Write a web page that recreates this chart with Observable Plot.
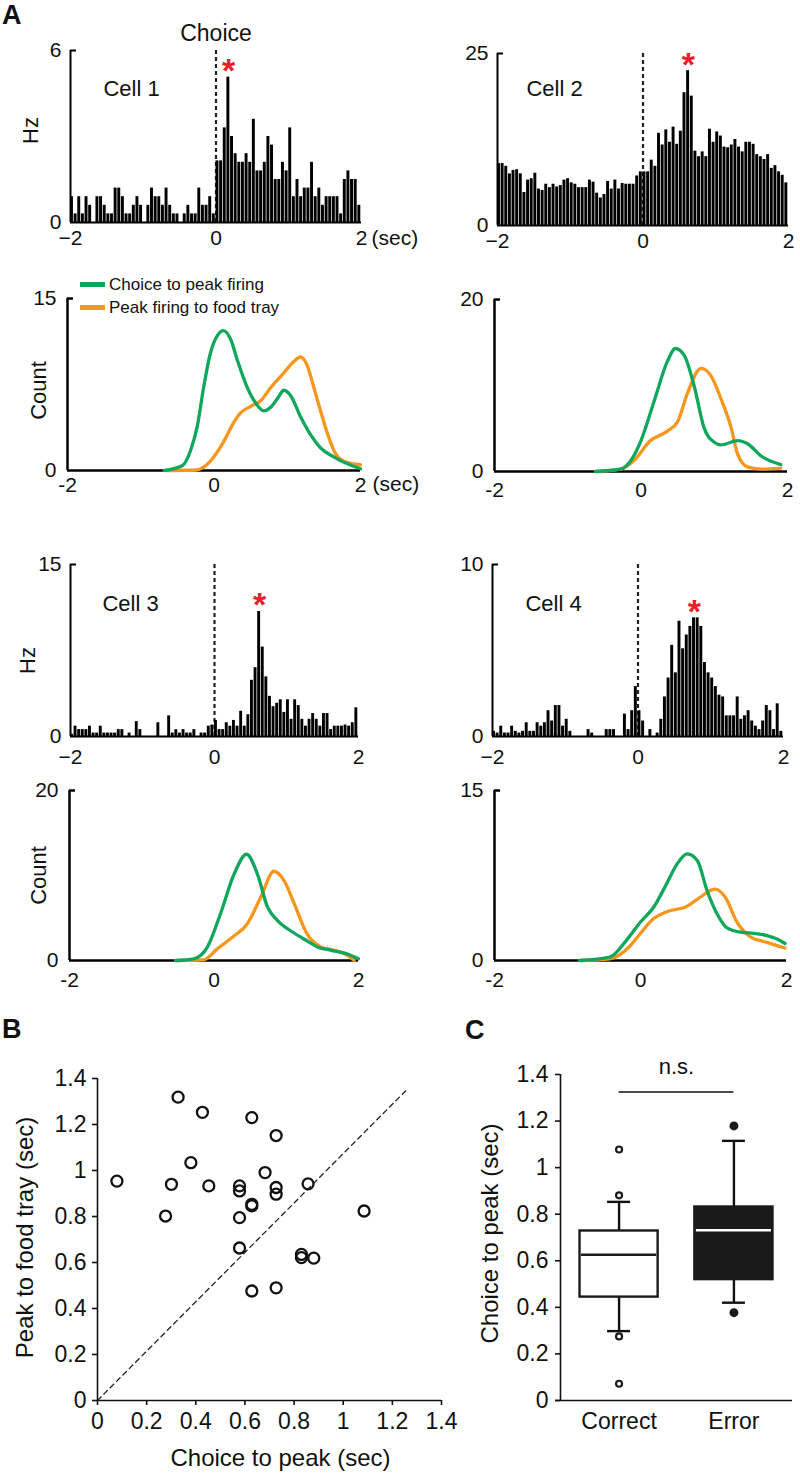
<!DOCTYPE html>
<html><head><meta charset="utf-8">
<script src="https://cdn.jsdelivr.net/npm/d3@7"></script>
<script src="https://cdn.jsdelivr.net/npm/@observablehq/plot@0.6"></script>
<style>
body{margin:0;background:#fff;}
#fig{position:relative;width:800px;height:1474px;overflow:hidden;font-family:Arial,"Liberation Sans",Helvetica,sans-serif;color:#111;}
#fig .p{position:absolute;}
#fig svg{overflow:visible;background:none;}
#fig g[aria-label*="axis"]{font-size:inherit;font-family:inherit;}
#fig g[aria-label*="axis"] line,#fig g[aria-label*="axis tick"] path{stroke-width:1.6;}
.lt{position:absolute;font-weight:bold;font-size:27px;line-height:1.1;}
.leg{position:absolute;font-size:17px;line-height:1;display:flex;align-items:center;white-space:nowrap;}
.leg i{display:inline-block;width:25px;height:5px;margin-right:4px;}
</style></head><body><div id="fig"></div>
<script>
// ---------------- DATA ----------------
const timeDomain = [-2, 2];
const binWidth = 0.05;
const histTicks = [-2, 0, 2];
const cellNames = ["Cell 1", "Cell 2", "Cell 3", "Cell 4"];
const hzMax = [6, 25, 15, 10];
const countMax = [15, 20, 20, 15];

const cell1Hz = [0.9,0.3,0.9,0.3,0.9,0.6,0,0.9,0.9,0.6, 0.3,0.3,1.2,1.2,0.9,0.3,0.3,0.6,0.9,0.6, 0,0.6,1.2,0.9,0.9,0.6,1.2,0.6,0.3,0.3, 0,0.3,0.6,0.3,0.3,1.2,0.6,0.6,0.9,0.3,
  2.15,2.15,3.3,5.07,3.0,2.4,2.1,2.1,2.4,2.1, 3.6,1.8,1.8,2.1,3.0,2.7,1.5,1.5,2.1,1.8, 3.3,0.9,1.5,0.9,1.2,1.2,2.1,0.9,1.2,0.6, 0.9,0.9,0.9,0.9,0.3,1.5,1.8,1.5,1.5,0.6];
const cell2Hz = [9.0,9.0,8.6,7.5,8.0,8.1,7.5,4.8,6.6,6.8, 7.6,5.3,5.1,6.0,5.5,6.0,5.6,5.8,6.6,6.8, 6.2,6.0,5.5,5.5,5.5,6.6,6.3,4.7,4.0,4.5, 6.4,5.3,6.6,5.3,6.1,6.0,6.0,6.0,7.2,7.8,
  7.8,7.8,9.5,8.6,13.4,11.7,13.9,12.1,14.3,11.8, 13.7,19.3,22.5,18.8,10.8,10.0,10.7,10.0,14.0,12.1, 13.6,13.0,11.4,11.3,11.7,12.5,11.4,10.7,12.1,12.1, 11.8,10.3,10.0,9.6,10.3,8.3,8.7,7.8,7.3,6.2];
const cell3Hz = [0.2,0.9,0.6,0.6,0.6,0.9,0.3,0.3,0.9,0.3, 0.3,0.3,0.3,0.6,0.6,0,0.3,0,1.3,0.6, 0,0,0,0,1.2,0,0,1.8,0.3,0.6, 0.3,0.6,0.3,0.3,0.6,0,0.3,0.3,0.9,1.0,
  1.4,0.6,0.6,1.2,0.9,1.4,0.9,2.2,0.9,1.9, 4.9,6.0,10.9,7.8,5.2,3.5,2.6,2.9,3.2,2.1, 3.2,1.5,3.2,2.7,1.5,0.9,1.5,2.0,1.5,0.9, 2.0,2.0,0.6,0.9,0.9,0.9,1.0,0.9,1.2,2.5];
const cell4Hz = [0.3,0.2,0.6,0.2,0.2,0.6,0.3,0.2,0.3,0.8, 0.3,0.3,0.8,0.6,0.8,1.5,0.9,1.8,1.8,0.6, 1.0,0.3,0,0,0,0,0.4,0.2,0,0, 0,0.4,0.4,0.4,0,0,1.3,0.4,1.5,2.9,
  1.5,0.9,0,0.4,0,0.2,1.0,2.3,3.4,5.3, 3.7,6.7,5.1,5.9,6.4,6.9,6.9,6.4,4.3,3.7, 3.4,2.9,2.4,2.3,1.2,1.2,1.2,2.3,1.0,1.2, 1.5,0.9,0.6,0.4,0.9,1.8,1.5,0.4,1.9,0.3];

// density curves [time (s), count]
const dens1Choice = [[-0.68,0],[-0.43,0.44],[-0.32,1.75],[-0.23,3.8],[-0.14,7.3],[-0.05,10.2],[0.05,11.8],[0.13,12.2],[0.23,11.4],[0.32,9.6],[0.45,7.3],[0.59,5.7],[0.68,5.2],[0.77,5.5],[0.89,6.5],[0.95,7.0],[1.05,6.5],[1.18,4.7],[1.32,3.1],[1.45,2.0],[1.64,1.17],[1.82,0.58],[2.0,0.15]];
const dens1Tray = [[-0.64,0],[-0.27,0.02],[-0.14,0.3],[0,1.2],[0.14,2.6],[0.27,4.2],[0.36,5.0],[0.5,5.6],[0.64,6.1],[0.77,7.2],[0.95,8.5],[1.09,9.5],[1.18,9.9],[1.27,9.2],[1.36,7.3],[1.45,5.3],[1.55,3.2],[1.64,1.7],[1.77,0.8],[2.0,0.5]];
const dens2Choice = [[-0.62,0],[-0.28,0.27],[-0.14,1.25],[0,3.6],[0.18,8.2],[0.36,12.8],[0.47,14.3],[0.59,13.5],[0.73,9.8],[0.86,5.1],[1.0,3.4],[1.09,3.1],[1.32,3.6],[1.46,3.2],[1.64,1.8],[1.91,0.8]];
const dens2Tray = [[-0.62,0],[-0.28,0.27],[-0.1,1.25],[0.13,3.6],[0.36,4.7],[0.5,5.8],[0.63,9.0],[0.82,12.0],[0.95,11.2],[1.09,8.5],[1.23,5.1],[1.32,2.0],[1.46,0.5],[1.64,0.27],[1.91,0.4]];
const dens3Choice = [[-0.53,0],[-0.28,0.2],[-0.09,1.6],[0.09,5.5],[0.28,10.2],[0.45,12.5],[0.6,10.2],[0.74,6.3],[0.88,4.7],[1.06,3.5],[1.25,2.5],[1.43,1.6],[1.62,1.2],[1.81,0.86],[2.0,0.2]];
const dens3Tray = [[-0.53,0],[-0.14,0.08],[0.05,1.4],[0.28,2.9],[0.46,4.3],[0.65,7.5],[0.83,10.5],[0.97,9.4],[1.11,6.7],[1.29,3.1],[1.48,1.6],[1.67,1.2],[1.85,0.6],[1.94,0]];
const dens4Choice = [[-0.83,0],[-0.42,0.3],[-0.19,1.8],[0,3.4],[0.18,4.7],[0.36,6.8],[0.5,8.5],[0.64,9.4],[0.78,8.8],[0.91,6.2],[1.05,4.1],[1.18,2.9],[1.37,2.5],[1.55,2.4],[1.73,2.2],[1.87,1.9],[1.98,1.5]];
const dens4Tray = [[-0.83,0],[-0.42,0.15],[-0.14,1.3],[0,2.4],[0.18,3.7],[0.36,4.3],[0.64,4.8],[0.82,5.6],[1.02,6.3],[1.16,5.6],[1.32,3.4],[1.5,2.1],[1.73,1.6],[1.98,1.1]];
const legendLabels = ["Choice to peak firing", "Peak firing to food tray"];

// panel B
const secTicks = [0, 0.2, 0.4, 0.6, 0.8, 1, 1.2, 1.4];
const choiceToPeak = [0.079,0.328,0.427,0.628,0.727,0.380,0.682,0.301,0.453,0.578,0.578,0.727,0.727,0.857,0.277,0.578,0.628,0.628,1.085,0.578,0.830,0.830,0.880,0.628,0.727];
const peakToTray   = [0.954,1.319,1.253,1.230,1.152,1.034,0.991,0.940,0.933,0.933,0.911,0.926,0.897,0.942,0.802,0.795,0.853,0.846,0.824,0.663,0.635,0.621,0.619,0.476,0.490];
const unityLine = [[0, 0], [1.254, 1.346]];

// panel C
const groups = ["Correct", "Error"];
const boxQ1 = [0.444, 0.519];
const boxMedian = [0.626, 0.731];
const boxQ3 = [0.728, 0.831];
const whiskerLow = [0.298, 0.42];
const whiskerHigh = [0.853, 1.115];
const outlierGroup = [0, 0, 0, 0, 1, 1];
const outlierValue = [1.078, 0.881, 0.275, 0.072, 1.179, 0.377];
const sigBarY = [1.325];
const sigText = "n.s.";

// ---------------- STYLE ----------------
const FONT = 'Arial, "Liberation Sans", Helvetica, sans-serif';
const RED = "#e8202a", GREEN = "#10a65c", ORANGE = "#f7961c", INK = "#111";
const fig = document.getElementById("fig");
function place(node, left, top) {
  const d = document.createElement("div");
  d.className = "p"; d.style.left = left + "px"; d.style.top = top + "px";
  d.appendChild(node); fig.appendChild(d);
}
const sty = fs => `font-family:${FONT};font-size:${fs}px;overflow:visible;background:transparent;color:${INK};`;
const minusFmt = d => d < 0 ? "\u2212" + (-d) : String(d);
const C = {textAnchor: "middle", lineAnchor: "middle"};

// ---------------- HISTOGRAMS ----------------
const histPanels = [
  {vals: cell1Hz, i: 0, left: 0, top: 0, w: 400, h: 260, ml: 70, mr: 39, mt: 50, mb: 38, px: 8, ldx: 61, ldy: 38, choice: true, sec: true, hz: [-40, -6]},
  {vals: cell2Hz, i: 1, left: 400, top: 0, w: 400, h: 260, ml: 97, mr: 12, mt: 53, mb: 35, px: 8, ldx: 57, ldy: 35},
  {vals: cell3Hz, i: 2, left: 0, top: 520, w: 400, h: 250, ml: 70, mr: 42, mt: 44, mb: 34, px: 13, ldx: 60, ldy: 39, hz: [-43, 10]},
  {vals: cell4Hz, i: 3, left: 400, top: 520, w: 400, h: 250, ml: 92, mr: 17, mt: 44, mb: 34, px: 13, ldx: 61, ldy: 39}
];
for (const p of histPanels) {
  const ymax = hzMax[p.i];
  const bins = p.vals.map((v, k) => ({x1: timeDomain[0] + k * binWidth, x2: timeDomain[0] + (k + 1) * binWidth, v}));
  const peak = bins[d3.maxIndex(p.vals)];
  const pw = p.w - p.ml - p.mr;
  const marks = [
    Plot.ruleX([0], {stroke: "#222", strokeWidth: 2.2, strokeDasharray: "4,3"}),
    Plot.rect(bins, {x1: "x1", x2: "x2", y1: () => 0, y2: "v", fill: "#000", insetRight: 0.7}),
    Plot.ruleY([0], {stroke: "#000", strokeWidth: 2}),
    Plot.ruleX([timeDomain[0]], {y1: 0, y2: ymax, stroke: "#000", strokeWidth: 2}),
    Plot.tickY([ymax], {y: d => d, insetRight: pw - 6, stroke: "#000", strokeWidth: 2}),
    Plot.text([peak], {x: d => (d.x1 + d.x2) / 2, y: "v", text: () => "*", fill: RED, fontSize: 34, fontWeight: "bold", dy: -6, ...C}),
    Plot.text([cellNames[p.i]], {text: d => d, frameAnchor: "top-left", dx: p.ldx, dy: p.ldy, fontSize: 22, ...C})
  ];
  if (p.choice) marks.push(Plot.text([0], {x: d => d, text: () => "Choice", frameAnchor: "top", dy: -17, fontSize: 23, ...C}));
  if (p.sec) marks.push(Plot.text([timeDomain[1]], {x: d => d, text: () => "(sec)", frameAnchor: "bottom", dx: 10, dy: 16, fontSize: 21, textAnchor: "start", lineAnchor: "middle"}));
  if (p.hz) marks.push(Plot.text(["Hz"], {text: d => d, frameAnchor: "left", rotate: -90, dx: p.hz[0], dy: p.hz[1], fontSize: 22, ...C}));
  const plot = Plot.plot({
    width: p.w, height: p.h, marginLeft: p.ml, marginRight: p.mr, marginTop: p.mt, marginBottom: p.mb,
    style: sty(21),
    x: {domain: timeDomain, ticks: histTicks, tickSize: 0, tickPadding: p.px, tickFormat: minusFmt, label: null},
    y: {domain: [0, ymax], ticks: [0, ymax], tickSize: 0, tickPadding: 9, tickFormat: d => String(d), label: null},
    marks
  });
  place(plot, p.left, p.top);
}

// ---------------- DENSITIES ----------------
const densPanels = [
  {choice: dens1Choice, tray: dens1Tray, i: 0, left: 0, top: 260, w: 400, h: 260, ml: 67, mr: 40, mt: 38, mb: 50, px: 7, sec: true, cnt: [-29, 6]},
  {choice: dens2Choice, tray: dens2Tray, i: 1, left: 400, top: 260, w: 400, h: 260, ml: 94, mr: 13, mt: 39, mb: 49, px: 11},
  {choice: dens3Choice, tray: dens3Tray, i: 2, left: 0, top: 770, w: 400, h: 240, ml: 69, mr: 42, mt: 20, mb: 50, px: 12, cnt: [-31, 0]},
  {choice: dens4Choice, tray: dens4Tray, i: 3, left: 400, top: 770, w: 400, h: 240, ml: 94, mr: 14, mt: 20, mb: 50, px: 12}
];
for (const p of densPanels) {
  const ymax = countMax[p.i];
  const pw = p.w - p.ml - p.mr;
  const marks = [
    Plot.ruleY([0], {stroke: "#000", strokeWidth: 2.5}),
    Plot.ruleX([timeDomain[0]], {y1: 0, y2: ymax, stroke: "#000", strokeWidth: 2.5}),
    Plot.tickY([ymax], {y: d => d, insetRight: pw - 6, stroke: "#000", strokeWidth: 2.5}),
    Plot.line(p.tray, {x: d => d[0], y: d => d[1], stroke: ORANGE, strokeWidth: 3.3, curve: "monotone-x"}),
    Plot.line(p.choice, {x: d => d[0], y: d => d[1], stroke: GREEN, strokeWidth: 3.3, curve: "monotone-x"})
  ];
  if (p.sec) marks.push(Plot.text([timeDomain[1]], {x: d => d, text: () => "(sec)", frameAnchor: "bottom", dx: 12, dy: 14, fontSize: 21, textAnchor: "start", lineAnchor: "middle"}));
  if (p.cnt) marks.push(Plot.text(["Count"], {text: d => d, frameAnchor: "left", rotate: -90, dx: p.cnt[0], dy: p.cnt[1], fontSize: 22, ...C}));
  const plot = Plot.plot({
    width: p.w, height: p.h, marginLeft: p.ml, marginRight: p.mr, marginTop: p.mt, marginBottom: p.mb,
    style: sty(21),
    x: {domain: timeDomain, ticks: histTicks, tickSize: 0, tickPadding: p.px, tickFormat: d => String(d), label: null},
    y: {domain: [0, ymax], ticks: [0, ymax], tickSize: 0, tickPadding: 11, tickFormat: d => String(d), label: null},
    marks
  });
  place(plot, p.left, p.top);
}

// legend
const leg = [[GREEN, 284], [ORANGE, 307]];
legendLabels.forEach((t, k) => {
  const d = document.createElement("div");
  d.className = "leg";
  d.style.left = "80px"; d.style.top = (leg[k][1] - 9) + "px"; d.style.height = "18px";
  d.innerHTML = `<i style="background:${leg[k][0]}"></i><span>${t}</span>`;
  fig.appendChild(d);
});

// ---------------- PANEL B ----------------
const secFmt = d => String(d);
const pts = choiceToPeak.map((x, k) => ({x, y: peakToTray[k]}));
const plotB = Plot.plot({
  width: 460, height: 464, marginLeft: 97, marginRight: 19, marginTop: 68, marginBottom: 74,
  style: sty(23),
  x: {domain: [0, 1.4], ticks: secTicks, tickSize: 5, tickPadding: 7, tickFormat: secFmt, label: null},
  y: {domain: [0, 1.4], ticks: secTicks, tickSize: 5, tickPadding: 6, tickFormat: secFmt, label: null},
  marks: [
    Plot.ruleX([0], {y1: 0, y2: 1.4, stroke: INK, strokeWidth: 1.6}),
    Plot.ruleY([0], {x1: 0, x2: 1.4, stroke: INK, strokeWidth: 1.6}),
    Plot.line(unityLine, {x: d => d[0], y: d => d[1], stroke: "#222", strokeWidth: 1.3, strokeDasharray: "5,4"}),
    Plot.dot(pts, {x: "x", y: "y", r: 5.5, stroke: INK, strokeWidth: 2.3, fill: "none"}),
    Plot.text(["Choice to peak (sec)"], {text: d => d, frameAnchor: "bottom", dx: 11, dy: 58, fontSize: 24, ...C}),
    Plot.text(["Peak to food tray (sec)"], {text: d => d, frameAnchor: "left", rotate: -90, dx: -72, dy: -2, fontSize: 24, ...C})
  ]
});
place(plotB, 0, 1010);

// ---------------- PANEL C ----------------
const boxes = groups.map((g, i) => ({i, q1: boxQ1[i], med: boxMedian[i], q3: boxQ3[i], lo: whiskerLow[i], hi: whiskerHigh[i]}));
const outs = outlierValue.map((v, k) => ({i: outlierGroup[k], v}));
const half = 0.34, cap = 0.1;
const plotC = Plot.plot({
  width: 340, height: 464, marginLeft: 100, marginRight: 8, marginTop: 64, marginBottom: 74,
  style: sty(23),
  x: {domain: [-0.51, groups.length - 0.49], ticks: groups.map((g, i) => i), tickSize: 0, tickPadding: 12, tickFormat: i => groups[i], label: null},
  y: {domain: [0, 1.4], ticks: secTicks, tickSize: 5, tickPadding: 7, tickFormat: secFmt, label: null},
  marks: [
    Plot.ruleX([-0.51], {y1: 0, y2: 1.4, stroke: INK, strokeWidth: 1.6}),
    Plot.ruleY([0], {stroke: INK, strokeWidth: 1.6, insetLeft: -5}),
    Plot.ruleX(boxes, {x: "i", y1: "lo", y2: "hi", stroke: INK, strokeWidth: 2.4}),
    Plot.ruleY(boxes, {y: "lo", x1: d => d.i - cap, x2: d => d.i + cap, stroke: INK, strokeWidth: 2.4}),
    Plot.ruleY(boxes, {y: "hi", x1: d => d.i - cap, x2: d => d.i + cap, stroke: INK, strokeWidth: 2.4}),
    Plot.rect(boxes, {x1: d => d.i - half, x2: d => d.i + half, y1: "q1", y2: "q3", fill: d => d.i ? "#1a1a1a" : "#fff", stroke: "#1a1a1a", strokeWidth: 2.4}),
    Plot.ruleY(boxes, {y: "med", x1: d => d.i - half, x2: d => d.i + half, stroke: d => d.i ? "#fff" : "#1a1a1a", strokeWidth: 2.4, insetLeft: 1.5, insetRight: 1.5}),
    Plot.dot(outs, {x: "i", y: "v", r: d => d.i ? 5.8 : 4.6, fill: d => d.i ? "#1a1a1a" : "#fff", stroke: "#1a1a1a", strokeWidth: 2.2}),
    Plot.ruleY(sigBarY, {x1: 0, x2: groups.length - 1, stroke: INK, strokeWidth: 1.5}),
    Plot.text(sigBarY, {x: () => (groups.length - 1) / 2, y: d => d, text: () => sigText, dy: -25, fontSize: 22, ...C}),
    Plot.text(["Choice to peak (sec)"], {text: d => d, frameAnchor: "left", rotate: -90, dx: -70, dy: -4, fontSize: 24, ...C})
  ]
});
place(plotC, 460, 1010);

// panel letters
[["A", 2, 1], ["B", 2, 1015], ["C", 465, 1016]].forEach(([t, x, y]) => {
  const d = document.createElement("div");
  d.className = "lt"; d.textContent = t; d.style.left = x + "px"; d.style.top = y + "px";
  fig.appendChild(d);
});
</script></body></html>
